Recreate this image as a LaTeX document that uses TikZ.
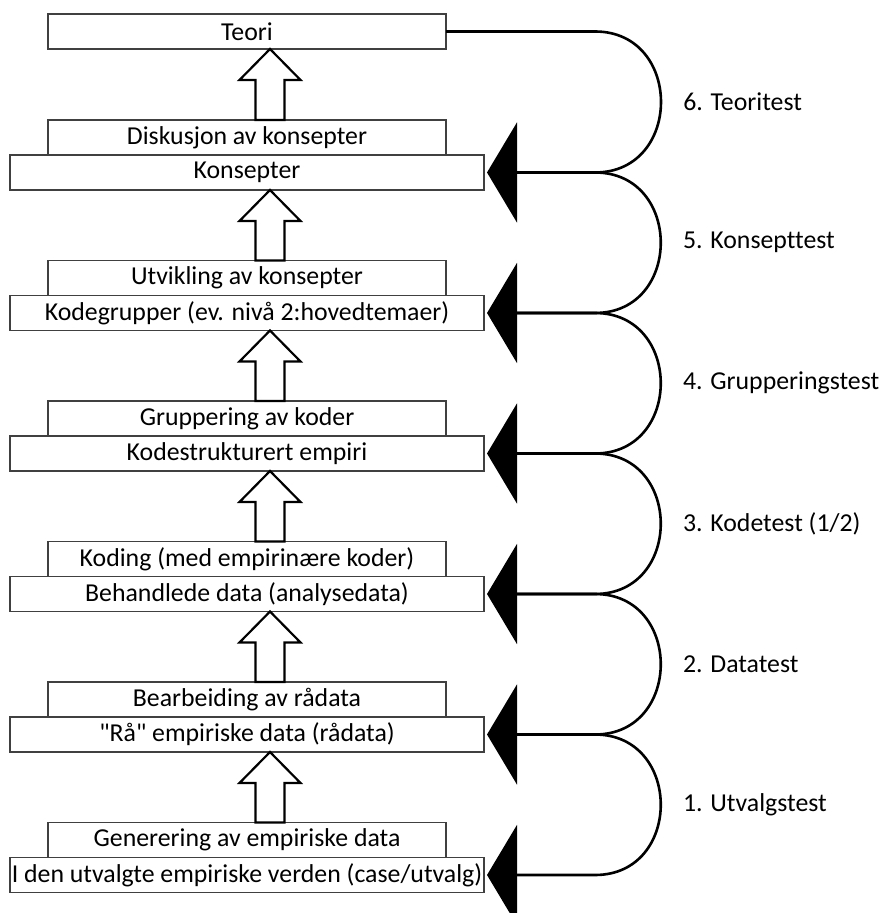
\documentclass[tikz,border=0pt]{standalone}
\usepackage{fontspec}
\setmainfont{Carlito}[Ligatures={TeXOff,NoCommon}]
\usetikzlibrary{arrows.meta,positioning,calc}

\tikzset{
  box/.style={draw=black!75, line width=0.75pt, inner sep=0pt, outer sep=0pt,
    minimum height=17.5pt, font=\fontsize{12.9}{15}\selectfont},
  lowbox/.style={box, minimum width=237pt},
  upbox/.style={box, minimum width=199pt},
  blockarr/.style={draw=black, line width=1.1pt, fill=white, line join=miter},
  testline/.style={line width=1.3pt, -{Triangle[length=15pt,width=50pt]}, shorten >=1.5pt},
  testlbl/.style={inner sep=0pt, right=10.5pt, font=\fontsize{12.9}{15}\selectfont}
}
\newcommand\blockarrow[2]{%
  \draw[blockarr] let \p1=([xshift=11.5pt]#1.north), \p2=([xshift=11.5pt]#2.south) in
    (\x1-7.25pt,\y1) -- (\x1-7.25pt,\y2-15.5pt) -- (\x1-15.25pt,\y2-15.5pt) -- (\x2,\y2)
    -- (\x1+15.25pt,\y2-15.5pt) -- (\x1+7.25pt,\y2-15.5pt) -- (\x1+7.25pt,\y1) -- cycle;}

\begin{document}
\begin{tikzpicture}[x=0.5pt, y=-0.5pt]
\useasboundingbox (0,0) rectangle (879,913);

\node[upbox] (teori) at (247,31.5) {Teori};
\node[lowbox] (konsepter) at (247,172.5) {Konsepter};
\node[upbox, above=0pt of konsepter] (diskusjon) {Diskusjon av konsepter};
\node[lowbox] (kodegrupper) at (247,313) {Kodegrupper (ev. nivå 2:hovedtemaer)};
\node[upbox, above=0pt of kodegrupper] (utvikling) {Utvikling av konsepter};
\node[lowbox] (kodestrukt) at (247,453.5) {Kodestrukturert empiri};
\node[upbox, above=0pt of kodestrukt] (gruppering) {Gruppering av koder};
\node[lowbox] (behandlede) at (247,594) {Behandlede data (analysedata)};
\node[upbox, above=0pt of behandlede] (koding) {Koding (med empirinære koder)};
\node[lowbox] (raadata) at (247,734.5) {"Rå" empiriske data (rådata)};
\node[upbox, above=0pt of raadata] (bearbeiding) {Bearbeiding av rådata};
\node[lowbox] (verden) at (247,875) {I den utvalgte empiriske verden (case/utvalg)};
\node[upbox, above=0pt of verden] (generering) {Generering av empiriske data};

\blockarrow{diskusjon}{teori}
\blockarrow{utvikling}{konsepter}
\blockarrow{gruppering}{kodegrupper}
\blockarrow{koding}{kodestrukt}
\blockarrow{bearbeiding}{behandlede}
\blockarrow{generering}{raadata}

% the tests, each loop ends on the level below
\coordinate (jx) at (595,0);
\draw[testline] (teori.east) -- (teori.east -| jx)
  to[out=0,in=0,looseness=1.6] node[testlbl] {6. Teoritest} (konsepter.east -| jx) -- (konsepter.east);
\draw[testline, shorten <=16pt] (konsepter.east) -- (konsepter.east -| jx)
  to[out=0,in=0,looseness=1.6] node[testlbl] {5. Konsepttest} (kodegrupper.east -| jx) -- (kodegrupper.east);
\draw[testline, shorten <=16pt] (kodegrupper.east) -- (kodegrupper.east -| jx)
  to[out=0,in=0,looseness=1.6] node[testlbl] {4. Grupperingstest} (kodestrukt.east -| jx) -- (kodestrukt.east);
\draw[testline, shorten <=16pt] (kodestrukt.east) -- (kodestrukt.east -| jx)
  to[out=0,in=0,looseness=1.6] node[testlbl] {3. Kodetest (1/2)} (behandlede.east -| jx) -- (behandlede.east);
\draw[testline, shorten <=16pt] (behandlede.east) -- (behandlede.east -| jx)
  to[out=0,in=0,looseness=1.6] node[testlbl] {2. Datatest} (raadata.east -| jx) -- (raadata.east);
\draw[testline, shorten <=16pt] (raadata.east) -- (raadata.east -| jx)
  to[out=0,in=0,looseness=1.6] node[testlbl] {1. Utvalgstest} (verden.east -| jx) -- (verden.east);
\end{tikzpicture}
\end{document}
